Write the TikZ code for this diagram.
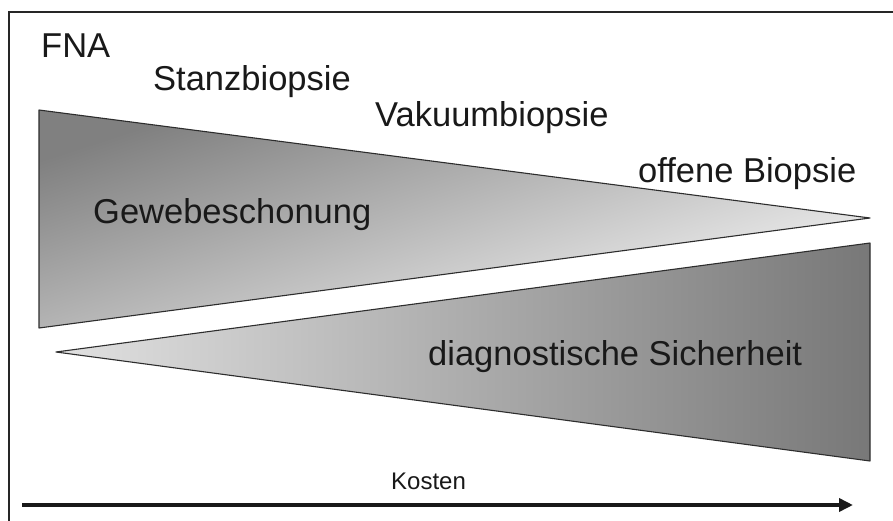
\documentclass[tikz,border=0pt]{standalone}
\usepackage{fontspec}
\setmainfont{Liberation Sans}
\usetikzlibrary{arrows.meta}
\definecolor{darkg}{RGB}{128,128,128}
\definecolor{lightg}{RGB}{248,248,248}
\definecolor{lowlight}{RGB}{225,225,225}
\definecolor{lowdark}{RGB}{120,120,120}
\definecolor{edge}{RGB}{45,45,45}
\tikzset{
  lbl/.style={anchor=base west, inner sep=0pt, font=\fontsize{34.5}{40}\selectfont, text=black!90},
  small/.style={anchor=base west, inner sep=0pt, font=\fontsize{24}{29}\selectfont, text=black!90},
  wedge/.style={draw=edge, line width=1.1pt, line join=round},
}
\begin{document}
\begin{tikzpicture}[x=1pt,y=-1pt]
\useasboundingbox (0,0) rectangle (893,521);
\fill[white] (0,0) rectangle (893,521);
% frame (top and left edges visible)
\draw[line width=1.3pt, black!85] (893,12) -- (9,12) -- (9,521);
% upper wedge
\coordinate (ua) at (39,110);
\coordinate (ub) at (39,328);
\coordinate (uc) at (870,218);
\shade[top color=darkg, bottom color=lightg, shading angle=18] (ua) -- (uc) -- (ub) -- cycle;
\draw[wedge] (ua) -- (uc) -- (ub) -- cycle;
% lower wedge
\coordinate (la) at (56,352);
\coordinate (lb) at (870,243);
\coordinate (lc) at (870,461);
\shade[left color=lowlight, right color=lowdark] (la) -- (lb) -- (lc) -- cycle;
\draw[wedge] (la) -- (lb) -- (lc) -- cycle;
% labels
\node[lbl] (fna) at (41,58) {FNA};
\node[lbl] (stanz) at (153,91) {Stanzbiopsie};
\node[lbl] (vak) at (375,127) {Vakuumbiopsie};
\node[lbl] (off) at (638,183) {offene Biopsie};
\node[lbl] (gew) at (93,223) {Gewebeschonung};
\node[lbl] (diag) at (428,365) {diagnostische Sicherheit};
\node[small] (kost) at (391,489) {Kosten};
% cost arrow
\coordinate (as) at (22,505);
\coordinate (ae) at (853,505);
\draw[line width=4pt, black!90, -{Triangle[length=14pt,width=13pt]}] (as) -- (ae);
\end{tikzpicture}
\end{document}
